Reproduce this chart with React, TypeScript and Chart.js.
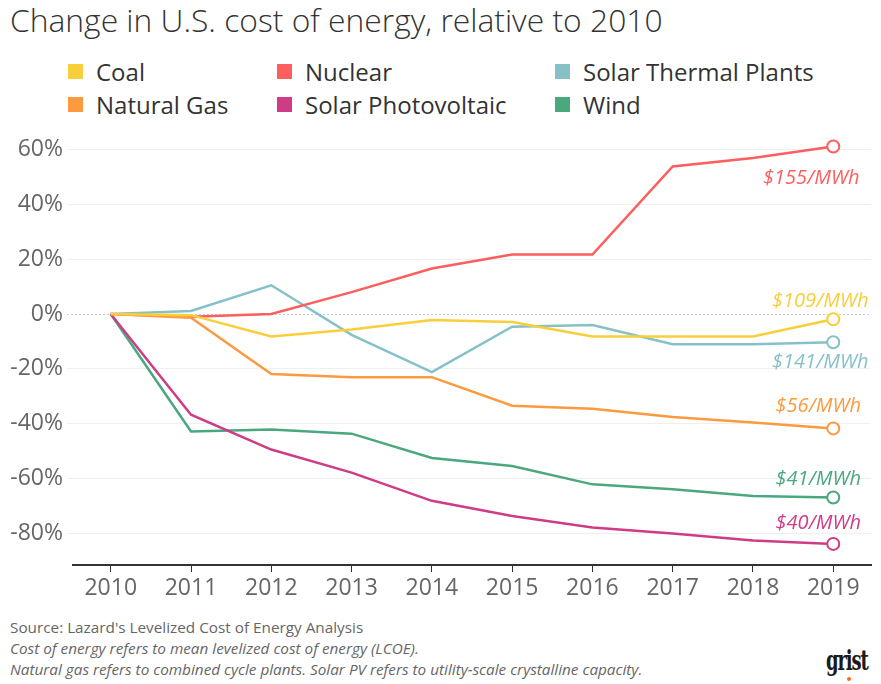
import { useEffect, useRef } from "react";
import { Chart, registerables } from "chart.js";

Chart.register(...registerables);

const years = [2010, 2011, 2012, 2013, 2014, 2015, 2016, 2017, 2018, 2019];
const yTicks = [-80, -60, -40, -20, 0, 20, 40, 60];

const seriesNames = ["Coal", "Natural Gas", "Nuclear", "Solar Photovoltaic", "Solar Thermal Plants", "Wind"];
const coal = [0, -0.4, -8.2, -5.6, -2.2, -2.9, -8.2, -8.2, -8.2, -1.9];
const naturalGas = [0, -1.3, -21.9, -23, -23, -33.4, -34.5, -37.5, -39.5, -41.7];
const nuclear = [0, -1, 0, 8, 16.6, 21.7, 21.7, 53.8, 56.9, 61.1];
const solarPV = [0, -36.7, -49.4, -57.8, -68.1, -73.6, -77.8, -80, -82.6, -83.8];
const solarThermal = [0, 1.1, 10.5, -7.6, -21.2, -4.6, -4, -11, -11, -10.3];
const wind = [0, -42.8, -42.1, -43.6, -52.5, -55.4, -62.1, -63.9, -66.3, -66.9];
const endLabels = ["$109/MWh", "$56/MWh", "$155/MWh", "$40/MWh", "$141/MWh", "$41/MWh"];

const colors = ["#f8cf3a", "#fd9a40", "#fd5e5e", "#cf3c86", "#86c1c8", "#4ba77e"];
// label offsets from the last point: [dx, dy]
const labelOffsets = [[-13, -18], [-15, -22], [-22, 32], [-15, -21], [-13, 20], [-15, -18]];

const allValues = [coal, naturalGas, nuclear, solarPV, solarThermal, wind];
const FONT = "'Open Sans', sans-serif";

const zeroLine = {
  id: "zeroLine",
  beforeDatasetsDraw(chart: any) {
    const { ctx, chartArea, scales } = chart;
    const y = Math.round(scales.y.getPixelForValue(0)) + 0.5;
    ctx.save();
    ctx.strokeStyle = "#cccccc";
    ctx.lineWidth = 1;
    ctx.setLineDash([2, 2]);
    ctx.beginPath();
    ctx.moveTo(chartArea.left - 6, y);
    ctx.lineTo(chartArea.right, y);
    ctx.stroke();
    ctx.restore();
  },
};

const endLabelPlugin = {
  id: "endLabels",
  afterDatasetsDraw(chart: any) {
    const { ctx } = chart;
    ctx.save();
    ctx.font = `italic 20px ${FONT}`;
    ctx.textAlign = "center";
    ctx.textBaseline = "middle";
    chart.data.datasets.forEach((ds: any, i: number) => {
      const meta = chart.getDatasetMeta(i);
      const pt = meta.data[meta.data.length - 1];
      if (!pt) return;
      ctx.fillStyle = ds.borderColor;
      ctx.fillText(endLabels[i], pt.x + labelOffsets[i][0], pt.y + labelOffsets[i][1]);
    });
    ctx.restore();
  },
};

function EnergyChart() {
  const chartRef = useRef<HTMLCanvasElement>(null);
  const chartInstanceRef = useRef<Chart | null>(null);

  useEffect(() => {
    if (!chartRef.current) return;
    if (chartInstanceRef.current) chartInstanceRef.current.destroy();
    const ctx = chartRef.current.getContext("2d");
    if (!ctx) return;

    chartInstanceRef.current = new Chart(ctx, {
      type: "line",
      data: {
        datasets: allValues.map((vals, i) => ({
          label: seriesNames[i],
          data: years.map((yr, j) => ({ x: yr, y: vals[j] })),
          borderColor: colors[i],
          borderWidth: 2.5,
          pointRadius: (c: any) => (c.dataIndex === years.length - 1 ? 6 : 0),
          pointBackgroundColor: "#ffffff",
          pointBorderColor: colors[i],
          pointBorderWidth: 2,
          tension: 0,
          fill: false,
        })),
      },
      options: {
        animation: false,
        responsive: true,
        maintainAspectRatio: false,
        layout: { padding: { top: 0, right: 10, left: 0, bottom: 0 } },
        plugins: {
          legend: { display: false },
          tooltip: { enabled: false },
        },
        scales: {
          x: {
            type: "linear",
            min: 2009.53,
            max: 2019.47,
            afterBuildTicks: (s: any) => {
              s.ticks = years.map((v) => ({ value: v }));
            },
            afterFit: (s: any) => {
              s.height = 45;
            },
            ticks: {
              callback: (v: any) => String(v),
              font: { size: 23, family: FONT },
              color: "#666666",
              padding: 3,
              maxRotation: 0,
              autoSkip: false,
            },
            grid: { drawOnChartArea: false, drawTicks: true, tickLength: 7, color: "#333333" },
            border: { display: true, color: "#333333", width: 2 },
          },
          y: {
            min: -91.5,
            max: 65,
            afterBuildTicks: (s: any) => {
              s.ticks = yTicks.map((v) => ({ value: v }));
            },
            afterFit: (s: any) => {
              s.width = 73;
            },
            ticks: {
              callback: (v: any) => v + "%",
              font: { size: 23, family: FONT },
              color: "#666666",
              padding: 4,
            },
            grid: {
              color: (c: any) => (c.tick && c.tick.value === 0 ? "rgba(0,0,0,0)" : "#efefef"),
              lineWidth: 1,
              drawTicks: true,
              tickLength: 6,
            },
            border: { display: false },
          },
        },
      },
      plugins: [zeroLine, endLabelPlugin],
    });

    return () => {
      if (chartInstanceRef.current) {
        chartInstanceRef.current.destroy();
        chartInstanceRef.current = null;
      }
    };
  }, []);

  return <canvas ref={chartRef} />;
}

const legendCols = [68, 277, 555];

export default function App() {
  useEffect(() => {
    document.body.style.margin = "0";
  }, []);

  return (
    <div style={{ position: "relative", width: 881, height: 684, background: "#fff", fontFamily: FONT, overflow: "hidden" }}>
      <div style={{ position: "absolute", left: 10, top: 1, fontSize: 31.8, lineHeight: "37px", fontWeight: 300, color: "#333", whiteSpace: "nowrap" }}>
        Change in U.S. cost of energy, relative to 2010
      </div>
      {seriesNames.map((name, i) => {
        const col = legendCols[Math.floor(i / 2)];
        const row = i % 2;
        return (
          <div
            key={name}
            style={{ position: "absolute", left: col, top: 56 + row * 33, height: 30, display: "flex", alignItems: "center", whiteSpace: "nowrap" }}
          >
            <span style={{ width: 15, height: 15, background: colors[i], display: "inline-block", marginRight: 13 }} />
            <span style={{ fontSize: 24, color: "#333" }}>{name}</span>
          </div>
        );
      })}
      <div style={{ position: "absolute", left: 0, top: 118, width: 881, height: 492 }}>
        <EnergyChart />
      </div>
      <div style={{ position: "absolute", left: 10, top: 617, fontSize: 15.3, lineHeight: "21px", color: "#666" }}>
        <div>Source: Lazard's Levelized Cost of Energy Analysis</div>
        <div style={{ fontStyle: "italic" }}>Cost of energy refers to mean levelized cost of energy (LCOE).</div>
        <div style={{ fontStyle: "italic" }}>
          Natural gas refers to combined cycle plants. Solar PV refers to utility-scale crystalline capacity.
        </div>
      </div>
      <div
        style={{
          position: "absolute",
          left: 826,
          top: 646,
          fontFamily: "'DejaVu Serif Condensed', 'DejaVu Serif', serif",
          fontWeight: 700,
          fontSize: 27,
          lineHeight: "30px",
          letterSpacing: -1.5,
          color: "#1a1a1a",
          transform: "scaleX(0.74)",
          transformOrigin: "left top",
        }}
      >
        grist
      </div>
      <div style={{ position: "absolute", left: 847, top: 677, width: 4, height: 4, borderRadius: 2, background: "#f26b21" }} />
    </div>
  );
}
